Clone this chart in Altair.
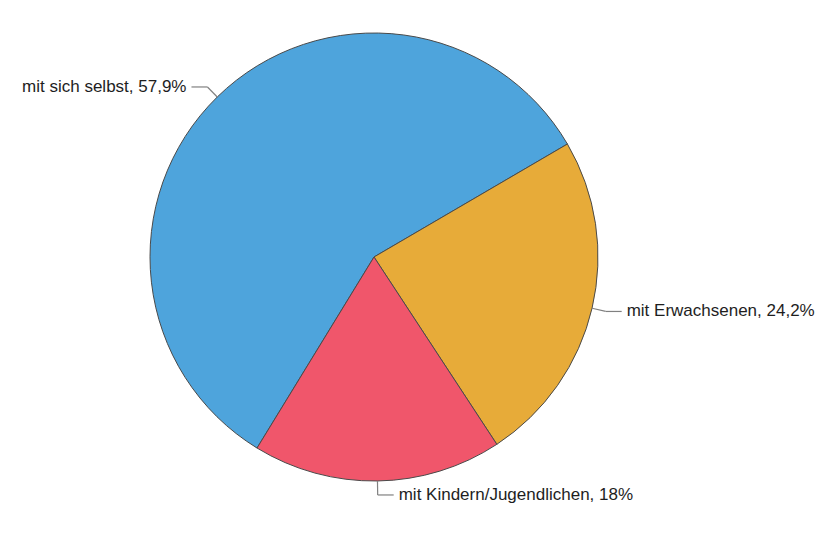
import math
import altair as alt
import pandas as pd

categories = ["mit sich selbst", "mit Erwachsenen", "mit Kindern/Jugendlichen"]
values = [57.9, 24.2, 18.0]
value_labels = ["57,9%", "24,2%", "18%"]
colors = ["#4EA4DC", "#E7AB39", "#F0566B"]

df = pd.DataFrame({
    "cat": categories,
    "value": values,
    "label": [f"{c}, {v}" for c, v in zip(categories, value_labels)],
    "order": list(range(len(categories))),
})

W, H = 809, 524
CX, CY = 366, 249
R = 224
START = 3.691  # start angle of first slice (radians, clockwise from 12 o'clock)

base = alt.Chart(df)

pie = base.mark_arc(stroke="#4a4a4a", strokeWidth=1, radius=R).encode(
    theta=alt.Theta("value:Q", stack=True,
                    scale=alt.Scale(range=[START, START + 2 * math.pi])),
    color=alt.Color("cat:N", scale=alt.Scale(domain=categories, range=colors), legend=None),
    order=alt.Order("order:Q"),
    x=alt.value(CX),
    y=alt.value(CY),
)

geo = base.transform_joinaggregate(
    total="sum(value)"
).transform_window(
    cum="sum(value)", sort=[alt.SortField("order")], frame=[None, 0]
).transform_calculate(
    mid=f"{START} + 2*PI*(datum.cum - datum.value/2)/datum.total"
).transform_calculate(
    side="sin(datum.mid) >= 0 ? 1 : -1",
    ax=f"{CX} + {R}*sin(datum.mid)",
    ay=f"{CY} - {R}*cos(datum.mid)",
    ex=f"{CX} + {R + 14}*sin(datum.mid)",
    ey=f"{CY} - {R + 14}*cos(datum.mid)",
).transform_calculate(
    hx="datum.ex + 16*datum.side",
    tx="datum.ex + 21*datum.side",
)

lead1 = geo.mark_rule(color="#808080", strokeWidth=1.2).encode(
    x=alt.X("ax:Q", scale=None), y=alt.Y("ay:Q", scale=None),
    x2="ex:Q", y2="ey:Q",
)
lead2 = geo.mark_rule(color="#808080", strokeWidth=1.2).encode(
    x=alt.X("ex:Q", scale=None), y=alt.Y("ey:Q", scale=None),
    x2="hx:Q",
)

txt_kw = dict(baseline="middle", font="Liberation Sans", fontSize=17, color="#1e1e1e")
text_r = geo.transform_filter("datum.side > 0").mark_text(align="left", **txt_kw).encode(
    x=alt.X("tx:Q", scale=None), y=alt.Y("ey:Q", scale=None), text="label:N",
)
text_l = geo.transform_filter("datum.side < 0").mark_text(align="right", **txt_kw).encode(
    x=alt.X("tx:Q", scale=None), y=alt.Y("ey:Q", scale=None), text="label:N",
)

chart = alt.layer(pie, lead1, lead2, text_r, text_l).properties(
    width=W, height=H, autosize="none", padding=0,
).configure_view(stroke=None)

chart.save("out.html", embed_options={"renderer": "svg", "actions": False})
